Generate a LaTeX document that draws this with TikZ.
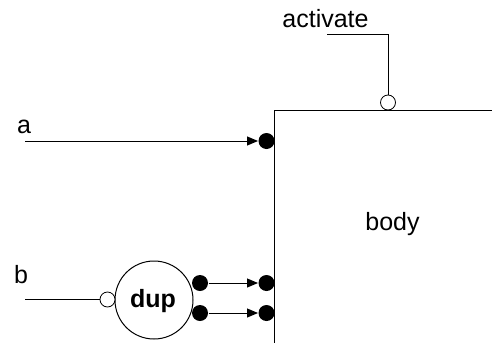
\documentclass[tikz,border=0pt]{standalone}
\usepackage{fontspec}
\setmainfont{Liberation Sans}
\usepackage{tikz}
\usetikzlibrary{positioning,arrows.meta,calc}

\begin{document}
\begin{tikzpicture}[
    x=1pt, y=-1pt,
    font=\fontsize{25}{29}\selectfont,
    line width=1pt,
    lbl/.style={anchor=base, inner sep=0pt},
    inport/.style={circle, fill=black, inner sep=0pt, minimum size=16pt},
    negport/.style={circle, draw, fill=white, inner sep=0pt,
      minimum size=15pt, line width=0.8pt},
    proc/.style={circle, draw, inner sep=0pt, minimum size=78pt},
    arr/.style={-{Triangle[length=11pt,width=9pt]}}
]
\useasboundingbox (0,0) rectangle (492,343);
% body box, only top and left edges show
\coordinate (tl) at (274,110);
\coordinate (tr) at (492,110);
\coordinate (bl) at (274,343);
\draw (tr) -- (tl) -- (bl);
\node[lbl] (body) at (392.5,230) {body};

% ports of body
\node[inport]  (ain)  at (266.5,141) {};
\node[inport]  (d1in) at (266.5,283) {};
\node[inport]  (d2in) at (266.5,313) {};
\node[negport] (act)  at (388,102.5) {};

% dup
\node[proc] (dup) at (154,300) {};
\node[lbl, font=\fontsize{25}{29}\selectfont\bfseries] (duplbl) at (153,307) {dup};
\node[negport] (bin)  at (107.5,299.5) {};
\node[inport]  (d1out) at (200,283) {};
\node[inport]  (d2out) at (200,313) {};

% labels and free ends
\node[lbl] (alab) at (24,133) {a};
\node[lbl] (blab) at (21,283) {b};
\node[lbl] (actlab) at (325.5,27) {activate};
\coordinate (astart) at (25,141);
\coordinate (bstart) at (25,299.5);
\coordinate (actstart) at (327,34);

\draw[arr] (astart) -- (ain.west);
\draw (bstart) -- (bin.west);
\draw[arr] (d1out.east) -- (d1in.west);
\draw[arr] (d2out.east) -- (d2in.west);
\draw (actstart) -| (act.north);
\end{tikzpicture}
\end{document}
